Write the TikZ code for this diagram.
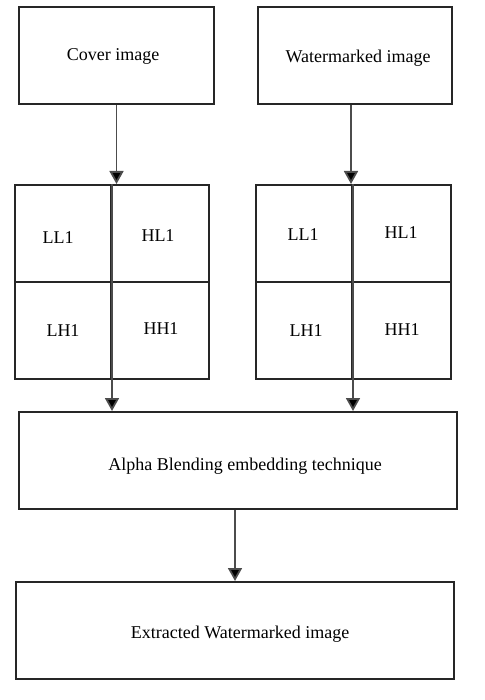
\documentclass[tikz,border=0pt]{standalone}
\usepackage{fontspec}
\setmainfont{Liberation Serif}
\usetikzlibrary{arrows.meta}
\begin{document}
\begin{tikzpicture}[x=1pt,y=-1pt,
  box/.style={draw=black!85, line width=2pt, rectangle, inner sep=0pt},
  lbl/.style={inner sep=0pt, font=\fontsize{18}{20}\selectfont},
  arr/.style={draw=black!70, line width=1.8pt, -{Triangle[width=14pt,length=13pt,fill=black]}}]
\useasboundingbox (0,0) rectangle (484,700);
% top boxes
\node[box, minimum width=195pt, minimum height=97pt] (cover) at (116.5,55.5) {};
\node[box, minimum width=194pt, minimum height=97pt] (wm) at (355,55.5) {};
% left grid
\node[box, minimum width=96pt, minimum height=97pt] (lLL) at (63,233.5) {};
\node[box, minimum width=98pt, minimum height=97pt] (lHL) at (160,233.5) {};
\node[box, minimum width=96pt, minimum height=97pt] (lLH) at (63,330.5) {};
\node[box, minimum width=98pt, minimum height=97pt] (lHH) at (160,330.5) {};
% right grid
\node[box, minimum width=96pt, minimum height=97pt] (rLL) at (304,233.5) {};
\node[box, minimum width=99pt, minimum height=97pt] (rHL) at (401.5,233.5) {};
\node[box, minimum width=96pt, minimum height=97pt] (rLH) at (304,330.5) {};
\node[box, minimum width=99pt, minimum height=97pt] (rHH) at (401.5,330.5) {};
% bottom boxes
\node[box, minimum width=438pt, minimum height=97pt] (alpha) at (238,460.5) {};
\node[box, minimum width=438pt, minimum height=97pt] (ext) at (235,630.5) {};
% labels
\node[lbl] (tcover) at (113,56) {Cover image};
\node[lbl] (twm) at (358,58) {Watermarked image};
\node[lbl] (tlLL) at (58,238) {LL1};
\node[lbl] (tlHL) at (158,236) {HL1};
\node[lbl] (tlLH) at (63,331) {LH1};
\node[lbl] (tlHH) at (161,329) {HH1};
\node[lbl] (trLL) at (303,235) {LL1};
\node[lbl] (trHL) at (401,233) {HL1};
\node[lbl] (trLH) at (306,331) {LH1};
\node[lbl] (trHH) at (402,330) {HH1};
\node[lbl] (talpha) at (245,466) {Alpha Blending embedding technique};
\node[lbl] (text) at (240,634) {Extracted Watermarked image};
% arrows
\draw[arr] (cover.south) -- (cover.south |- lLL.north);
\draw[arr] (lLL.north east) -- (lLL.north east |- alpha.north);
\draw[arr] ([xshift=-4pt]wm.south) -- ([xshift=-4pt]wm.south |- rLL.north);
\draw[arr] (rLL.north east) -- (rLL.north east |- alpha.north);
\draw[arr] ([xshift=-3pt]alpha.south) -- ([xshift=-3pt]alpha.south |- ext.north);
\end{tikzpicture}
\end{document}
